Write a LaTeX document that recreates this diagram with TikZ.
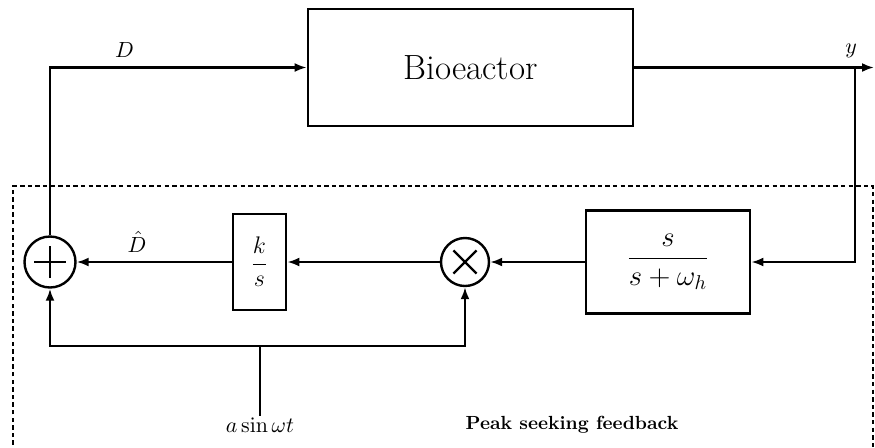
\documentclass[tikz,border=0pt]{standalone}
\usepackage{amsmath,amssymb}
\usetikzlibrary{arrows.meta,positioning,calc}

\tikzset{
  blockbox/.style={draw, line width=1.4pt, rectangle, inner sep=0pt},
  junction/.style={draw, line width=1.2pt, circle, inner sep=0pt},
  signal/.style={line width=1.1pt, -{Latex[length=6pt,width=4.5pt]}},
  wire/.style={line width=1.1pt},
  frame/.style={line width=1.1pt, dash pattern=on 2.2pt off 1.6pt}
}

\begin{document}
\begin{tikzpicture}[x=0.5pt, y=-0.5pt, font=\fontsize{11}{13}\selectfont]
      \useasboundingbox (0,0) rectangle (875,447);

      % Plant
      \node[blockbox, minimum width=162.5pt, minimum height=58.5pt, font=\fontsize{17.5}{20}\selectfont] (bio) at (470.5,67.5) {Bioeactor};

      % Peak seeking loop
      \node[junction, minimum size=25.5pt] (sum) at (50,262) {};
      \draw[line width=1.1pt] ($(sum.center)+(-8pt,0)$) -- ($(sum.center)+(8pt,0)$)
            ($(sum.center)+(0,-8pt)$) -- ($(sum.center)+(0,8pt)$);
      \node[blockbox, minimum width=26.5pt, minimum height=48pt, font=\fontsize{13}{15}\selectfont] (integ) at (259.5,262) {$\dfrac{k}{s}$};
      \node[junction, minimum size=24pt] (mult) at (465,262) {};
      \draw[line width=1.1pt] ($(mult.center)+(-5.8pt,-5.8pt)$) -- ($(mult.center)+(5.8pt,5.8pt)$)
            ($(mult.center)+(-5.8pt,5.8pt)$) -- ($(mult.center)+(5.8pt,-5.8pt)$);
      \node[blockbox, minimum width=82pt, minimum height=51.5pt, font=\fontsize{14}{16}\selectfont] (hpf) at (668,262) {$\dfrac{s}{s+\omega_h}$};

      % Frame
      \draw[frame] (13,460) -- (13,186) -- (873,186) -- (873,460);

      % Points on the wires
      \coordinate (out) at (874,67.5);
      \coordinate (tap) at (855,67.5);
      \coordinate (split) at (260,346);
      \node (dither) at (260,425) {$a\sin\omega t$};
      \node[font=\bfseries\fontsize{9.5}{11}\selectfont] (title) at (572,425) {Peak seeking feedback};

      % Connections
      \draw[signal] (sum.north) |- (bio.west) node[pos=0.645, above=1pt] {$D$};
      \draw[signal] (bio.east) -- (out) node[pos=0.905, above=1pt] {$y$};
      \draw[signal] (tap) |- (hpf.east);
      \draw[signal] (hpf.west) -- (mult.east);
      \draw[signal] (mult.west) -- (integ.east);
      \draw[signal] (integ.west) -- (sum.east) node[pos=0.61, above=1pt] {$\hat{D}$};
      \draw[wire] ($(dither.north)+(0,5)$) -- (split);
      \draw[signal] (split) -| (sum.south);
      \draw[signal] (split) -| (mult.south);
\end{tikzpicture}
\end{document}
